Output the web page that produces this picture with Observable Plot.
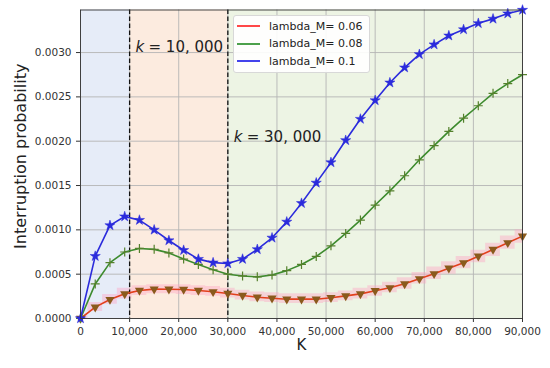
<!DOCTYPE html>
<html><head><meta charset="utf-8">
<script src="https://cdn.jsdelivr.net/npm/d3@7"></script>
<script src="https://cdn.jsdelivr.net/npm/@observablehq/plot@0.6"></script>
<style>
body{margin:0;background:#fff;font-family:"DejaVu Sans",sans-serif;}
#wrap{position:relative;width:550px;height:368px;}
#wrap svg{font-family:"DejaVu Sans",sans-serif;}
.legend{position:absolute;left:233px;top:15px;width:137px;height:58px;background:rgba(255,255,255,0.9);border:1px solid #d8d8d8;border-radius:3px;font:11px "DejaVu Sans",sans-serif;color:#222;box-sizing:border-box;}
.legend .row{position:absolute;left:3px;display:flex;align-items:center;height:14px;}
.legend .row span{margin-left:9px;white-space:nowrap;}
</style></head><body><div id="wrap"></div>
<script>
const K = [0,3000,6000,9000,12000,15000,18000,21000,24000,27000,30000,33000,36000,39000,42000,45000,48000,51000,54000,57000,60000,63000,66000,69000,72000,75000,78000,81000,84000,87000,90000];
const red = [0,0.000128,0.000214,0.000278,0.000316,0.000331,0.00033,0.000327,0.000316,0.000301,0.000282,0.00026,0.00024,0.000229,0.000218,0.000218,0.000218,0.000234,0.000255,0.000278,0.000313,0.000346,0.000391,0.000448,0.000504,0.000568,0.000628,0.000703,0.000779,0.000854,0.000929];
const green = [0,0.00039,0.00063,0.00075,0.00079,0.00078,0.00074,0.00067,0.00061,0.00055,0.0005,0.00048,0.00047,0.00049,0.00054,0.00061,0.0007,0.00082,0.00096,0.00111,0.00128,0.00144,0.00161,0.00179,0.00195,0.00211,0.00226,0.0024,0.00254,0.00265,0.00275];
const blue = [0,0.000703,0.00105,0.00115,0.00111,0.001,0.00088,0.00077,0.00067,0.00063,0.00062,0.00067,0.00078,0.00091,0.00109,0.0013,0.00153,0.00176,0.00201,0.00225,0.00246,0.00266,0.00283,0.00298,0.00309,0.00319,0.00326,0.00333,0.00338,0.00344,0.00348];
const bandHi = [0.00003,0.00018,0.00027,0.00034,0.00037,0.00038,0.00038,0.00038,0.00037,0.00036,0.00034,0.00032,0.0003,0.00029,0.00028,0.00028,0.00028,0.00029,0.00031,0.00034,0.00037,0.00041,0.00046,0.00052,0.00058,0.00064,0.0007,0.00077,0.00085,0.00093,0.001];
const bandLo = [0,0.00008,0.00016,0.00022,0.00026,0.00028,0.00028,0.00027,0.00026,0.00025,0.00023,0.00021,0.00019,0.00018,0.00017,0.00017,0.00017,0.00018,0.0002,0.00022,0.00025,0.00029,0.00033,0.00039,0.00044,0.0005,0.00056,0.00063,0.0007,0.00078,0.00085];
const seriesNames = ["lambda_M= 0.06","lambda_M= 0.08","lambda_M= 0.1"];
const xTicks = [0,10000,20000,30000,40000,50000,60000,70000,80000,90000];
const yTicks = [0,0.0005,0.001,0.0015,0.002,0.0025,0.003];
const boundaries = [10000,30000];
const regionBlue = [{x1:0,x2:10000}], regionOrange = [{x1:10000,x2:30000}], regionGreen = [{x1:30000,x2:90000}];
const annotations = [{x:11200,y:0.00306,num:"= 10, 000"},{x:31200,y:0.00205,num:"= 30, 000"}];
const xLabel = "K", yLabel = "Interruption probability";
const yMax = 0.00348;

const rows = (arr) => K.map((k,i)=>({k, v:arr[i]}));
const band = K.map((k,i)=>({k, lo:bandLo[i], hi:bandHi[i]}));
const cRed="#e2401c", cGreen="#3d8b2e", cBlue="#2b2bdc";

const chart = Plot.plot({
  width:550, height:368,
  marginLeft:80, marginRight:28, marginTop:9.5, marginBottom:50,
  style:{fontFamily:"DejaVu Sans, sans-serif", fontSize:"10.5px", color:"#333", background:"transparent"},
  x:{domain:[0,90000], ticks:xTicks, tickFormat:d3.format(","), label:null, tickSize:4},
  y:{domain:[0,yMax], ticks:yTicks, tickFormat:d3.format(".4f"), label:null, tickSize:4},
  marks:[
    Plot.rect(regionBlue,{x1:"x1",x2:"x2",y1:0,y2:yMax,fill:"#e6ecf8"}),
    Plot.rect(regionOrange,{x1:"x1",x2:"x2",y1:0,y2:yMax,fill:"#fcebdf"}),
    Plot.rect(regionGreen,{x1:"x1",x2:"x2",y1:0,y2:yMax,fill:"#edf4e4"}),
    Plot.gridX(xTicks,{stroke:"#b4b4b4",strokeOpacity:1,strokeWidth:0.9}),
    Plot.gridY(yTicks,{stroke:"#b4b4b4",strokeOpacity:1,strokeWidth:0.9}),
    Plot.areaY(band,{x:"k",y1:"lo",y2:"hi",curve:"step",fill:"#ff9fc0",fillOpacity:0.4}),
    Plot.ruleX(boundaries,{stroke:"#111",strokeWidth:1.3,strokeDasharray:"4.5,2.5"}),
    Plot.lineY(rows(red),{x:"k",y:"v",stroke:cRed,strokeWidth:1.6}),
    Plot.dot(rows(red),{x:"k",y:"v",symbol:"triangle",rotate:180,r:3.4,fill:"#8a5a1c",stroke:"none"}),
    Plot.lineY(rows(green),{x:"k",y:"v",stroke:cGreen,strokeWidth:1.6}),
    Plot.dot(rows(green),{x:"k",y:"v",symbol:"plus",r:3,stroke:"#55802c",strokeWidth:1.2}),
    Plot.lineY(rows(blue),{x:"k",y:"v",stroke:cBlue,strokeWidth:1.6}),
    Plot.dot(rows(blue),{x:"k",y:"v",symbol:"star",r:3.2,fill:cBlue,stroke:cBlue,strokeWidth:0.5}),
    Plot.text(annotations,{x:"x",y:"y",text:()=>"k",textAnchor:"start",fontStyle:"italic",fontSize:15,fill:"#222"}),
    Plot.text(annotations,{x:"x",y:"y",text:"num",textAnchor:"start",dx:13,fontSize:15,fill:"#222"}),
    Plot.text([xLabel],{frameAnchor:"bottom",textAnchor:"middle",dy:31,fontSize:15,fill:"#222"}),
    Plot.text([yLabel],{frameAnchor:"left",textAnchor:"middle",dx:-60,dy:-8,rotate:-90,fontSize:16,fill:"#222"}),
    Plot.frame({stroke:"#333",strokeWidth:0.9})
  ]
});
const wrap = document.getElementById("wrap");
wrap.appendChild(chart);
const lg = document.createElement("div");
lg.className="legend";
const cols=["#ff1a1a","#1f8a1f","#1414e6"];
seriesNames.forEach((n,i)=>{
  const r=document.createElement("div");
  r.className="row"; r.style.top=(3+i*17.5)+"px";
  r.innerHTML=`<svg width="23" height="12"><line x1="0" x2="23" y1="6" y2="6" stroke="${cols[i]}" stroke-width="1.6"/></svg><span>${n}</span>`;
  lg.appendChild(r);
});
wrap.appendChild(lg);
</script></body></html>
